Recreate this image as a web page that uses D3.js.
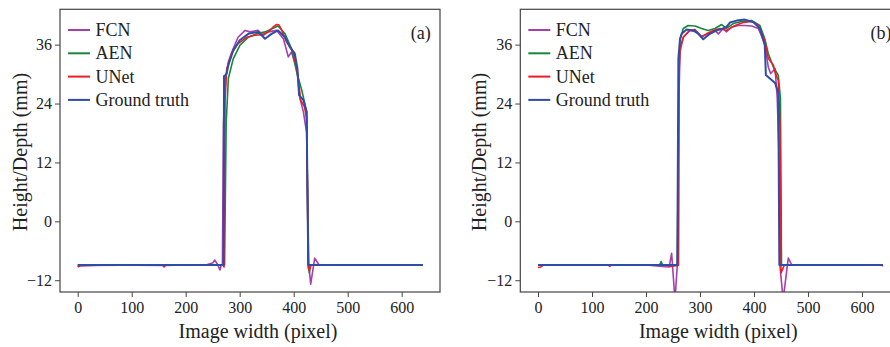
<!DOCTYPE html>
<meta charset="utf-8">
<html>
<head>
<script src="https://d3js.org/d3.v7.min.js"></script>
<style>
  body { margin: 0; background: white; }
  text { font-family: "Liberation Serif", "Times New Roman", serif; fill: #222; }
</style>
</head>
<body>
<div id="chart"></div>
<script>
// series names and colours (legend order)
var seriesNames = ["FCN", "AEN", "UNet", "Ground truth"];
var seriesColors = ["#a63fae", "#17883a", "#ee1c25", "#2d4da6"];

var xTicks = [0, 100, 200, 300, 400, 500, 600];
var yTicks = [-12, 0, 12, 24, 36];

// panel (a) profiles, [image column, height/depth mm]
var fcnA = [[0,-9.1],[50,-8.9],[160,-9.0],[240,-8.8],[250,-8.5],[254,-7.9],[259,-8.8],[263.5,-9.9],[266,-8.9],[268,-8.9],
  [270,20],[274,29],[279,32.5],[288,35.2],[297,37.5],[310,38.9],[319,38.6],[334,38.9],[344,37.9],[353,38.6],[368.5,38.9],
  [381,37.2],[390,33.5],[396,34.5],[405.6,31.1],[411.7,25],[418,22.3],[424,18],[428,-8.9],[431.5,-12.8],[439,-7.5],[447,-8.9],[639,-8.9]];
var aenA = [[0,-8.9],[120,-8.9],[272,-8.9],[275,20],[279,29.1],[288,33.1],[300.6,35.9],[316,37.5],[331,38.2],[347,38.6],
  [359,39.2],[371,39.8],[384,38.2],[396,35.2],[405.6,30.4],[415,26.7],[424,22.3],[427,-8.9],[429,-10.5],[431,-8.9],[639,-8.9]];
var unetA = [[0,-9.3],[5,-9.0],[157,-8.9],[160,-9.3],[163,-8.9],[269,-8.9],[271,-9.3],[273,25],[276,31.1],[285,34.2],[297,36.2],
  [313,37.5],[328,37.9],[341,38.0],[353,38.6],[362,39.6],[368.5,40.1],[373,40.0],[378,38.9],[387,36.5],[399,34.5],[407,30.4],
  [413,24.7],[420,23.3],[424,21],[427,-9.5],[429,-10],[432,-8.9],[639,-8.9]];
var truthA = [[0,-8.9],[200,-8.9],[270,-8.9],[271,29.6],[274,29.8],[276,30.2],[279,31.8],[288,34.8],[300,36.9],[316,38.2],
  [334,38.6],[347,37.2],[359,38.2],[371,38.9],[384,37.5],[393,35.5],[402,34.2],[407,31.1],[410,25.7],[418,24.7],[424,22.3],
  [427,-8.9],[500,-8.9],[639,-8.9]];

// panel (b) profiles
var fcnB = [[0,-8.9],[200,-8.9],[230,-9.2],[243,-9.3],[247.5,-6.5],[253.7,-16],[258,-8.9],[260,-8.9],[261,25],[263,34.5],
  [269,37.5],[281,38.9],[294,38.6],[303,37.7],[315,38.2],[327.8,38.9],[334,38.2],[343,39.3],[349,38.6],[358.6,39.6],[371,39.9],
  [383,39.9],[396,39.8],[408,39.3],[420,36.2],[426.5,31.4],[431,30.1],[439,31.1],[443,25.3],[446,15],[448,-8.9],[454,-16],
  [463.5,-7.5],[470,-8.9],[639,-8.9]];
var aenB = [[0,-8.9],[225,-8.9],[228,-8.2],[231,-8.9],[258,-8.9],[261,30],[263,36.9],[269,39.3],[278,39.9],[290.7,39.8],
  [303,39.3],[315,38.9],[327.8,39.3],[340,40.1],[349,39.3],[361.7,40.3],[377,40.7],[396,40.9],[411,39.9],[420,37.2],
  [426.5,34.2],[436,31.4],[445,29.8],[449,25],[451,-8.9],[639,-8.9]];
var unetB = [[0,-9.4],[5,-9.3],[10,-8.9],[130,-8.9],[133,-9.2],[136,-8.9],[238,-8.9],[245,-9.2],[258,-9.0],[260,-9.0],[261,30],
  [263,35.2],[269,37.5],[281,38.9],[290.7,39.1],[303,37.5],[312,38.2],[324.7,38.9],[337,39.3],[349,38.9],[365,39.9],[380,40.5],
  [396,40.7],[408,39.9],[420,36.9],[426.5,33.2],[436,31.8],[439,30.4],[445,28.7],[448,20],[450,-10.5],[453,-9.8],[456,-8.9],
  [636,-8.9],[639,-9.1]];
var truthB = [[0,-8.9],[258,-8.9],[260,33.2],[261,34.5],[263,37.2],[266,38.2],[275,39.1],[288,38.9],[297,38.2],[306,37.1],
  [318.5,38.2],[331,38.9],[343,39.3],[349,39.6],[355.5,40.5],[368,40.9],[383,41.1],[399,40.6],[411,39.3],[420,35.9],
  [422,29.8],[439,28.2],[445,26.2],[447,-8.9],[639,-8.9]];

var W = 890, H = 347;
var svg = d3.select("#chart").append("svg").attr("width", W).attr("height", H);

function drawPanel(left, tag, series, yLabelX) {
    var frame = {left: left, top: 9.3, width: 380, height: 282.7};
    var x = d3.scaleLinear().domain([-32.8, 671]).range([frame.left, frame.left + frame.width]);
    var y = d3.scaleLinear().domain([-14.4, 43.2]).range([frame.top + frame.height, frame.top]);

    var clipId = "clip" + tag;
    svg.append("clipPath").attr("id", clipId)
        .append("rect")
        .attr("x", frame.left).attr("y", frame.top)
        .attr("width", frame.width).attr("height", frame.height);

    // lines, ground truth drawn last
    var line = d3.line().x(d => x(d[0])).y(d => y(d[1]));
    var g = svg.append("g").attr("clip-path", "url(#" + clipId + ")");
    series.forEach(function(s, i) {
        g.append("path")
            .attr("d", line(s))
            .attr("fill", "none")
            .attr("stroke", seriesColors[i])
            .attr("stroke-width", i == 3 ? 2 : 1.6)
            .attr("stroke-linejoin", "round");
    });

    // axes
    var ax = svg.append("g")
        .attr("transform", "translate(0," + (frame.top + frame.height) + ")")
        .call(d3.axisBottom(x).tickValues(xTicks).tickSize(5).tickPadding(5));
    var ay = svg.append("g")
        .attr("transform", "translate(" + frame.left + ",0)")
        .call(d3.axisLeft(y).tickValues(yTicks).tickSize(5).tickPadding(3));
    [ax, ay].forEach(function(a) {
        a.select(".domain").remove();
        a.selectAll("line").attr("stroke", "#444");
        a.selectAll("text").style("font-size", "16px").attr("fill", "#222")
            .style("font-family", "'Liberation Serif', serif");
    });

    svg.append("rect")
        .attr("x", frame.left).attr("y", frame.top)
        .attr("width", frame.width).attr("height", frame.height)
        .attr("fill", "none").attr("stroke", "#444").attr("stroke-width", 1.2);

    // axis titles
    svg.append("text")
        .attr("x", frame.left + 198).attr("y", 338)
        .attr("text-anchor", "middle")
        .style("font-size", "20px")
        .text("Image width (pixel)");
    svg.append("text")
        .attr("transform", "translate(" + yLabelX + "," + 152 + ") rotate(-90)")
        .attr("text-anchor", "middle")
        .attr("dominant-baseline", "central")
        .style("font-size", "20px")
        .text("Height/Depth (mm)");

    // legend
    seriesNames.forEach(function(name, i) {
        var ly = 30 + i * 23.3;
        svg.append("line")
            .attr("x1", frame.left + 8).attr("x2", frame.left + 30)
            .attr("y1", ly).attr("y2", ly)
            .attr("stroke", seriesColors[i]).attr("stroke-width", 2);
        svg.append("text")
            .attr("x", frame.left + 35.5).attr("y", ly)
            .attr("dominant-baseline", "central")
            .style("font-size", "18px")
            .text(name);
    });

    // panel tag
    svg.append("text")
        .attr("x", frame.left + 360.7).attr("y", 33)
        .attr("text-anchor", "middle")
        .attr("dominant-baseline", "central")
        .style("font-size", "18px")
        .text("(" + tag + ")");
}

drawPanel(60, "a", [fcnA, aenA, unetA, truthA], 20);
drawPanel(520.3, "b", [fcnB, aenB, unetB, truthB], 479);
</script>
</body>
</html>
